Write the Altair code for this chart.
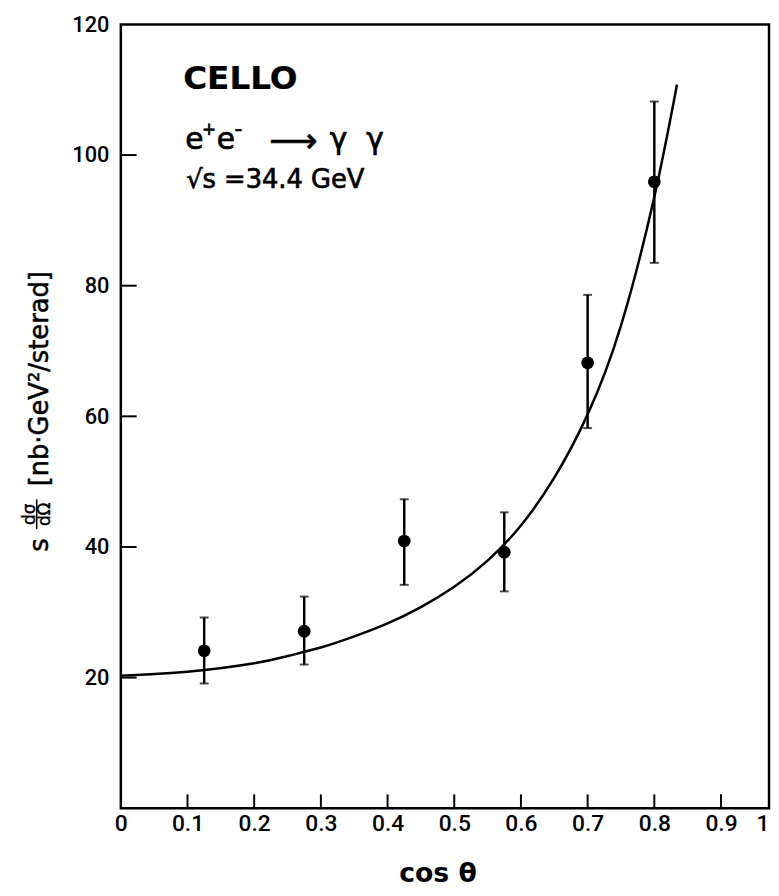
import altair as alt
import pandas as pd

# measured data points (cos theta, s dsigma/dOmega) with error bars
cos_pts = [0.125, 0.275, 0.425, 0.575, 0.700, 0.800]
y_pts = [24.1, 27.1, 40.9, 39.2, 68.2, 95.9]
y_lo = [19.1, 22.0, 34.2, 33.2, 58.2, 83.5]
y_hi = [29.2, 32.4, 47.3, 45.3, 78.6, 108.2]

# theoretical curve
cos_curve = [0.0, 0.1, 0.2, 0.25, 0.3, 0.35, 0.4, 0.45, 0.5, 0.55, 0.6, 0.65, 0.7, 0.75, 0.8, 0.834]
y_curve = [20.3, 20.9, 22.2, 23.3, 24.6, 26.3, 28.3, 30.8, 33.9, 37.9, 43.3, 50.6, 60.3, 73.9, 93.6, 110.8]

x_tick_marks = [0.1, 0.2, 0.3, 0.4, 0.5, 0.6, 0.7, 0.8, 0.9]
y_tick_marks = [20, 40, 60, 80, 100]
x_label_values = [0, 0.1, 0.2, 0.3, 0.4, 0.5, 0.6, 0.7, 0.8, 0.9, 0.972]
y_label_values = [20, 40, 60, 80, 100, 120]

X_MAX = 0.972
W, H = 655, 792

pts = pd.DataFrame({"c": cos_pts, "y": y_pts, "lo": y_lo, "hi": y_hi})
curve = pd.DataFrame({"c": cos_curve, "y": y_curve})
xt = pd.DataFrame({"v": x_tick_marks})
yt = pd.DataFrame({"v": y_tick_marks})

xscale = alt.Scale(domain=[0, X_MAX], nice=False, zero=False)
yscale = alt.Scale(domain=[0, 120], nice=False)

xaxis = alt.Axis(
    values=x_label_values,
    labelExpr="datum.value > 0.95 ? '1' : (datum.value == 0 ? '0' : format(datum.value, '.1f'))",
    labelAlign={"condition": {"test": "datum.value > 0.95", "value": "right"}, "value": "center"},
    labelFlush=False,
    tickSize=0, domain=False, grid=False,
    labelFont="Roboto", labelFontSize=23, labelFontWeight=500, labelColor="black", labelPadding=5,
    title="cos θ", titleFont="DejaVu Sans", titleFontSize=27, titleFontWeight="bold",
    titleColor="black", titleX=320, titleY=74, titleBaseline="alphabetic", titleAlign="center",
)
yaxis = alt.Axis(
    values=y_label_values, labelFlush=False,
    tickSize=0, domain=False, grid=False,
    labelFont="Roboto", labelFontSize=22, labelFontWeight=500, labelColor="black", labelPadding=12,
    title=None,
)

line = alt.Chart(curve).mark_line(color="black", strokeWidth=2.5, interpolate="natural").encode(
    x=alt.X("c:Q", scale=xscale, axis=xaxis),
    y=alt.Y("y:Q", scale=yscale, axis=yaxis),
)

err = alt.Chart(pts).mark_rule(color="black", strokeWidth=2.5).encode(
    x=alt.X("c:Q", scale=xscale), y=alt.Y("lo:Q", scale=yscale), y2="hi:Q"
)
cap_lo = alt.Chart(pts).mark_tick(color="black", orient="horizontal", size=9, thickness=2).encode(
    x=alt.X("c:Q", scale=xscale), y=alt.Y("lo:Q", scale=yscale)
)
cap_hi = alt.Chart(pts).mark_tick(color="black", orient="horizontal", size=9, thickness=2).encode(
    x=alt.X("c:Q", scale=xscale), y=alt.Y("hi:Q", scale=yscale)
)
dots = alt.Chart(pts).mark_circle(color="black", size=165, opacity=1).encode(
    x=alt.X("c:Q", scale=xscale), y=alt.Y("y:Q", scale=yscale)
)

xticks = alt.Chart(xt).mark_rule(color="black", strokeWidth=2).encode(
    x=alt.X("v:Q", scale=xscale), y=alt.value(H), y2=alt.value(H - 14)
)
yticks = alt.Chart(yt).mark_rule(color="black", strokeWidth=2).encode(
    y=alt.Y("v:Q", scale=yscale), x=alt.value(0), x2=alt.value(16)
)

def label(txt, x, y, size, weight="normal", align="left", angle=0, sw=0.7, font="DejaVu Sans"):
    return alt.Chart(pd.DataFrame({"t": [txt]})).mark_text(
        font=font, fontSize=size, fontWeight=weight, align=align,
        baseline="alphabetic", angle=angle, color="black",
        stroke="black", strokeWidth=sw,
    ).encode(x=alt.value(x), y=alt.value(y), text="t:N")

ann = [
    label("CELLO", 63, 65, 33, weight="bold", sw=0.2),
    # e+ e- -> gamma gamma
    label("e", 65, 126, 30),
    label("+", 82, 112, 17),
    label("e", 97, 126, 30),
    label("-", 115, 113, 22),
    label("⟶", 150, 129, 34),
    label("γ", 211, 126, 30),
    label("γ", 248, 126, 30),
    label("√s =34.4 GeV", 66, 165, 26),
    # y axis title pieces (rotated)
    label("[nb·GeV²/sterad]", -74, 358, 26, align="center", angle=270, sw=0.5),
    label("s", -74, 526, 26, align="center", angle=270, sw=0.5),
    label("dσ", -87, 495, 17, align="center", angle=270, sw=0.4),
    label("dΩ", -72, 495, 17, align="center", angle=270, sw=0.4),
]
frac_bar = alt.Chart(pd.DataFrame({"t": [0]})).mark_rule(color="black", strokeWidth=1.5).encode(
    x=alt.value(-85), y=alt.value(480), y2=alt.value(510)
)

chart = alt.layer(line, err, cap_lo, cap_hi, dots, xticks, yticks, frac_bar, *ann).properties(
    width=W, height=H,
    autosize=alt.AutoSizeParams(type="none"),
    padding={"left": 114, "top": 12, "right": 2, "bottom": 76},
).configure(
    background="white",
    view=alt.ViewConfig(stroke="black", strokeWidth=2.5),
)

chart.save("out.html", embed_options={"renderer": "svg", "actions": False})
